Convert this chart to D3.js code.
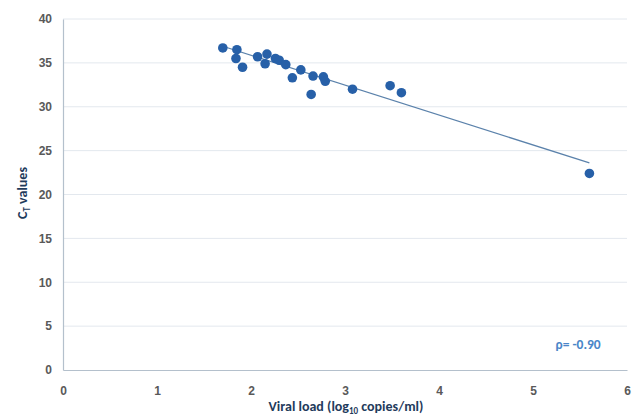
<!DOCTYPE html>
<html>
<head>
<meta charset="utf-8">
<script src="https://cdn.jsdelivr.net/npm/d3@7"></script>
<style>
  body { margin: 0; background: #fff; }
  svg { display: block; font-family: Calibri, Carlito, "Open Sans", sans-serif; }
  .tick text { font-weight: bold; fill: #595959; font-size: 12px; }
</style>
</head>
<body>
<div id="chart"></div>
<script>
// viral load (log10 copies/ml) vs CT value
var viralLoad = [1.70, 1.85, 1.84, 1.91, 2.07, 2.17, 2.15, 2.26, 2.30, 2.37, 2.44, 2.53, 2.66, 2.64, 2.77, 2.79, 3.08, 3.48, 3.60, 5.60];
var ctValues  = [36.7, 36.5, 35.5, 34.5, 35.7, 36.0, 34.9, 35.5, 35.3, 34.8, 33.3, 34.2, 33.5, 31.4, 33.4, 32.9, 32.0, 32.4, 31.6, 22.4];
// fitted trend line end points
var trendX = [1.70, 5.60];
var trendY = [36.9, 23.6];
var xTicks = [0, 1, 2, 3, 4, 5, 6];
var yTicks = [0, 5, 10, 15, 20, 25, 30, 35, 40];

var W = 635, H = 417;
var margin = {top: 19, right: 8, bottom: 47, left: 63};
var width = W - margin.left - margin.right;
var height = H - margin.top - margin.bottom;

var svg = d3.select('#chart').append('svg')
  .attr('width', W)
  .attr('height', H);

var g = svg.append('g')
  .attr('transform', 'translate(' + margin.left + ',' + margin.top + ')');

var x = d3.scaleLinear().domain([0, 6]).range([0, width]);
var y = d3.scaleLinear().domain([0, 40]).range([height, 0]);

// gridlines
g.append('g')
  .selectAll('line')
  .data(yTicks.slice(1))
  .enter().append('line')
  .attr('x1', 0).attr('x2', width)
  .attr('y1', function(d) { return y(d); })
  .attr('y2', function(d) { return y(d); })
  .attr('stroke', '#e3e8ee')
  .attr('stroke-width', 1);

// axes
var yAxis = g.append('g')
  .call(d3.axisLeft(y).tickValues(yTicks).tickSize(0).tickPadding(11));
yAxis.select('.domain').attr('stroke', '#b4c0cc').attr('stroke-width', 1.2);

var xAxis = g.append('g')
  .attr('transform', 'translate(0,' + height + ')')
  .call(d3.axisBottom(x).tickValues(xTicks).tickFormat(d3.format('d')).tickSize(0).tickPadding(16));
xAxis.select('.domain').attr('stroke', '#b4c0cc').attr('stroke-width', 1.2);

// trend line
g.append('line')
  .attr('x1', x(trendX[0])).attr('y1', y(trendY[0]))
  .attr('x2', x(trendX[1])).attr('y2', y(trendY[1]))
  .attr('stroke', '#5b82ab')
  .attr('stroke-width', 1.2);

// points
g.selectAll('.dot')
  .data(viralLoad.map(function(v, i) { return [v, ctValues[i]]; }))
  .enter().append('circle')
  .attr('class', 'dot')
  .attr('cx', function(d) { return x(d[0]); })
  .attr('cy', function(d) { return y(d[1]); })
  .attr('r', 4.8)
  .attr('fill', '#2760a8');

// correlation label
g.append('text')
  .attr('x', x(5.48))
  .attr('y', y(2.4))
  .attr('text-anchor', 'middle')
  .attr('fill', '#4a86c8')
  .attr('font-weight', 'bold')
  .attr('font-size', '13.5px')
  .text('\u03c1= -0.90');

// axis titles
var xt = svg.append('text')
  .attr('x', 346)
  .attr('y', 411)
  .attr('text-anchor', 'middle')
  .attr('fill', '#1f3b5c')
  .attr('font-weight', 'bold')
  .attr('font-size', '14px');
xt.append('tspan').text('Viral load (log');
xt.append('tspan').attr('font-size', '9px').attr('dy', 3).text('10');
xt.append('tspan').attr('dy', -3).text(' copies/ml)');

var yt = svg.append('text')
  .attr('transform', 'translate(27,' + 193 + ') rotate(-90)')
  .attr('text-anchor', 'middle')
  .attr('fill', '#1f3b5c')
  .attr('font-weight', 'bold')
  .attr('font-size', '14px');
yt.append('tspan').text('C');
yt.append('tspan').attr('font-size', '9px').attr('dy', 3).text('T');
yt.append('tspan').attr('dy', -3).text(' values');
</script>
</body>
</html>
